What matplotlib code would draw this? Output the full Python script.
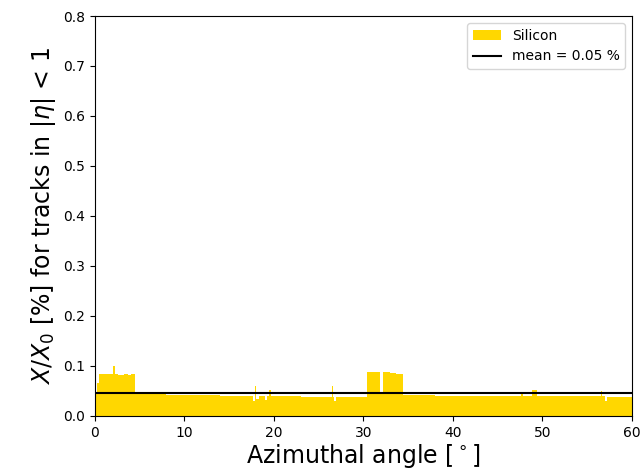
import numpy as np
import matplotlib
matplotlib.use('Agg')
import matplotlib.pyplot as plt

# bin edges in degrees and the silicon X/X0 (%) in each bin
edges = [0, 0.25, 0.5, 2.0, 2.2, 2.6, 3.2, 3.7, 4.0, 4.45,
         6, 8, 10, 12, 14, 16,
         17.7, 17.85, 17.95, 18.05, 18.35, 18.5,
         19.0, 19.2, 19.45, 19.65,
         21, 23, 25,
         26.45, 26.65, 26.75, 26.9,
         28, 30.45, 31.9, 32.15, 33.0, 33.6, 34.4,
         36, 38, 40, 42, 44, 46,
         47.6, 47.8, 48.8, 49.4,
         51, 53, 55,
         56.5, 56.7, 57.0, 57.15,
         59, 60]
silicon = [0.046, 0.065, 0.084, 0.100, 0.083, 0.082, 0.083, 0.081, 0.083,
           0.044, 0.043, 0.042, 0.041, 0.041, 0.040, 0.040,
           0.030, 0.060, 0.040, 0.034, 0.039, 0.040, 0.032, 0.039, 0.052, 0.039,
           0.039, 0.038, 0.038,
           0.060, 0.038, 0.030, 0.038,
           0.038, 0.088, 0.045, 0.088, 0.085, 0.083,
           0.042, 0.041, 0.040, 0.040, 0.039, 0.039,
           0.039, 0.045, 0.039, 0.052,
           0.040, 0.039, 0.039,
           0.039, 0.050, 0.039, 0.030,
           0.038, 0.038]

widths = np.diff(edges)
mean = np.average(silicon, weights=widths)

fig = plt.figure(figsize=(6.41, 4.71), dpi=100)
ax = fig.add_axes([0.148, 0.117, 0.838, 0.849])

ax.stairs(silicon, edges, fill=True, color='#FFD700', label='Silicon')
ax.axhline(mean, color='black', lw=1.5, label='mean = %.2f %%' % mean)

ax.set_xlim(0, 60)
ax.set_ylim(0, 0.8)
ax.set_xticks(np.arange(0, 61, 10))
ax.set_yticks(np.arange(0, 0.81, 0.1))
ax.tick_params(labelsize=10)
ax.set_xlabel(r'Azimuthal angle [$^\circ$]', fontsize=17, labelpad=2)
ax.set_ylabel(r'$X/X_0$ [%] for tracks in $|\eta|$ < 1', fontsize=17)
ax.legend(loc='upper right', fontsize=10)

fig.savefig('out.png', dpi=100)
